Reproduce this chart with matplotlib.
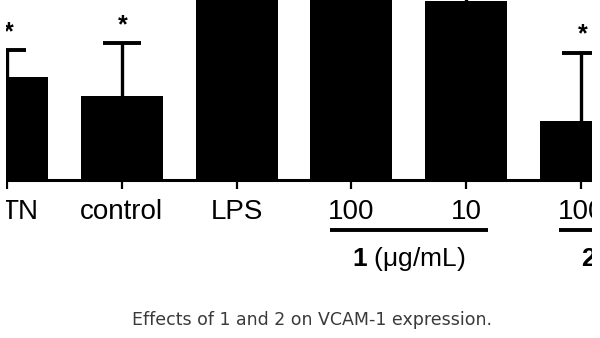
import numpy as np
import matplotlib
matplotlib.use("Agg")
import matplotlib.pyplot as plt
from matplotlib.patches import Rectangle

plt.rcParams['font.family'] = ['Liberation Sans', 'DejaVu Sans']
plt.rcParams['mathtext.fontset'] = 'custom'
plt.rcParams['mathtext.bf'] = 'Liberation Sans:bold'
plt.rcParams['mathtext.rm'] = 'Liberation Sans'

labels = ["TN", "control", "LPS", "100", "10", "100"]
values = [54.4, 44.3, 100, 99, 94.5, 31.1]      # bar heights (arbitrary units)
errors = [14.2, 28.0, 8.0, 8.0, 6.0, 36.0]      # upper SD
starred = [True, True, False, False, False, True]
groups = [("1", " (μg/mL)", 3, 4), ("2", " (μg/mL)", 5, 6)]   # compound, unit, first idx, last idx

x = np.arange(len(labels))
vals = np.array(values)
errs = np.array(errors)

fig = plt.figure(figsize=(6, 3.38), dpi=100)
ax = fig.add_axes([6/600, 1 - 180/338, 586/600, 180/338])

ax.bar(x, vals, width=0.715, color='black', zorder=2)
# upper error bars only (stem + top cap)
ax.vlines(x, vals, vals + errs, color='black', lw=2.4, zorder=1)
ax.hlines(vals + errs, x - 0.165, x + 0.165, color='black', lw=2.8, zorder=1)

for xi, v, e, s in zip(x, vals, errs, starred):
    if s:
        ax.annotate('*', (xi, v + e), xytext=(1, 13), textcoords='offset points',
                    ha='center', va='center', fontsize=18, fontweight='bold')

ax.set_xlim(-0.0087, 5.096)
ax.set_ylim(0, 95)
for side in ['top', 'left', 'right']:
    ax.spines[side].set_visible(False)
ax.spines['bottom'].set_linewidth(2.2)
ax.set_yticks([])
ax.set_xticks(x)
ax.set_xticklabels([])
ax.tick_params(axis='x', direction='out', length=6.5, width=1.6)

# category labels under the axis
trans = ax.get_xaxis_transform()
for i, lab in enumerate(labels):
    dx = 9 if i == 0 else 0
    ax.annotate(lab, (x[i], -0.175), xycoords=trans, xytext=(dx, 0),
                textcoords='offset points', ha='center', va='center',
                fontsize=20, annotation_clip=False)

# group underline and group label
for num, unit, i0, i1 in groups:
    ax.plot([i0 - 0.19, i1 + 0.19], [-0.278, -0.278], transform=trans, color='black',
            lw=2.8, clip_on=False, solid_capstyle='butt')
    cx = (i0 + i1) / 2
    ax.text(cx, -0.44, r'$\mathbf{' + num + r'}$' + unit, transform=trans,
            ha='center', va='center', fontsize=19)

# white margins left and right of the cropped figure
fig.patches.append(Rectangle((0, 0), 6/600, 1, transform=fig.transFigure,
                             facecolor='white', edgecolor='none', zorder=10))
fig.patches.append(Rectangle((592/600, 0), 8/600, 1, transform=fig.transFigure,
                             facecolor='white', edgecolor='none', zorder=10))

fig.text(311.5/600, 1 - 320/338, "Effects of 1 and 2 on VCAM-1 expression.",
         ha='center', va='center', fontsize=12.5, color='#3a3a3a', family='DejaVu Sans')

plt.savefig('out.png', dpi=100)
